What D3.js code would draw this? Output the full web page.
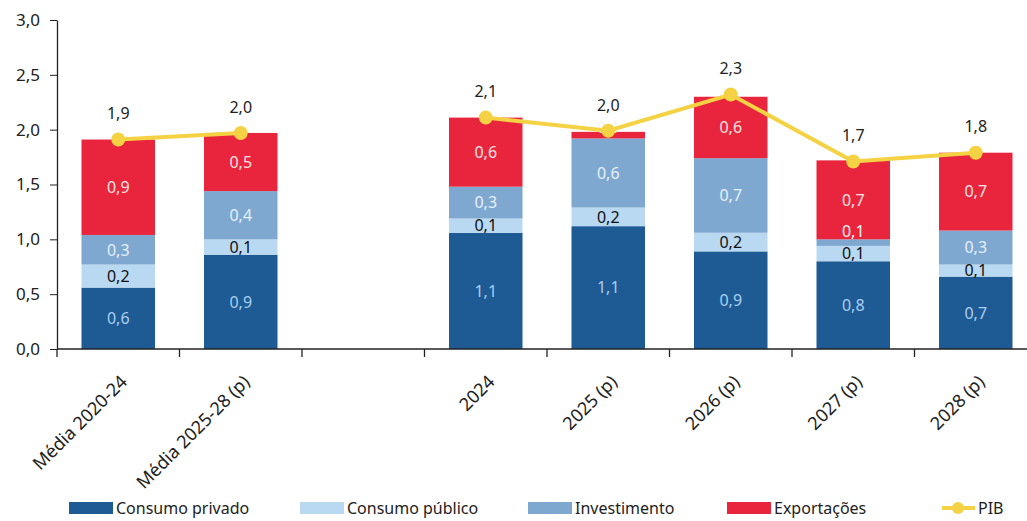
<!DOCTYPE html>
<html>
<head>
<meta charset="utf-8">
<script src="https://cdn.jsdelivr.net/npm/d3@7"></script>
<style>
  body { margin: 0; background: #fff; }
  svg { display: block; }
  .tick-lbl { font-family: "Noto Sans", sans-serif; font-size: 17px; fill: #222; }
  .x-lbl { font-family: "Noto Sans", sans-serif; font-size: 18px; fill: #222; }
  .val { font-family: "Noto Sans", sans-serif; font-size: 16px; }
  .legend text { font-family: "Noto Sans", sans-serif; font-size: 16px; fill: #222; }
</style>
</head>
<body>
<div id="chart"></div>
<script>
// categories (the blank slot is the gap between the averages and the years)
const categories = ['Média 2020-24', 'Média 2025-28 (p)', ' ', '2024', '2025 (p)', '2026 (p)', '2027 (p)', '2028 (p)'];
const barCategories = ['Média 2020-24', 'Média 2025-28 (p)', '2024', '2025 (p)', '2026 (p)', '2027 (p)', '2028 (p)'];

// contributions (p.p.)
const consumoPrivado = [0.56, 0.86, 1.06, 1.12, 0.89, 0.80, 0.66];
const consumoPublico = [0.21, 0.14, 0.13, 0.17, 0.17, 0.14, 0.11];
const investimento   = [0.27, 0.44, 0.29, 0.63, 0.68, 0.06, 0.31];
const exportacoes    = [0.87, 0.53, 0.63, 0.06, 0.56, 0.72, 0.71];
const pib            = [1.91, 1.97, 2.11, 1.99, 2.32, 1.71, 1.79];

const yTicks = [0, 0.5, 1, 1.5, 2, 2.5, 3];

const series = [
  { name: 'Consumo privado', values: consumoPrivado, color: '#1e5a94', text: '#a9cff0' },
  { name: 'Consumo público', values: consumoPublico, color: '#b9d9f2', text: '#111' },
  { name: 'Investimento',   values: investimento,   color: '#7fa8d0', text: '#e4f0fb' },
  { name: 'Exportações',    values: exportacoes,    color: '#e8253d', text: '#fde3e3' }
];
const pibColor = '#f5d244';

const width = 1027, height = 521;
const pt = d3.formatLocale({ decimal: ',', thousands: '.', grouping: [3], currency: ['', ''] });
const fmt = pt.format('.1f');

const svg = d3.select('#chart').append('svg')
  .attr('width', width)
  .attr('height', height);

const x = d3.scaleBand()
  .domain(categories)
  .range([57, 1037])
  .paddingInner(0.4)
  .paddingOuter(0.2);

const y = d3.scaleLinear()
  .domain([0, 3])
  .range([349, 20]);

const cx = c => x(c) + x.bandwidth() / 2;

// stacked bars
const rows = barCategories.map((c, i) => {
  const row = { cat: c };
  series.forEach(s => { row[s.name] = s.values[i]; });
  return row;
});
const stack = d3.stack().keys(series.map(s => s.name))(rows);

const barsG = svg.append('g');
const valsG = svg.append('g');
const sliceH = d => y(d[0]) - y(d[1]);

stack.forEach((layer, li) => {
  const s = series[li];
  barsG.append('g').selectAll('rect')
    .data(layer)
    .enter()
    .append('rect')
    .attr('x', d => x(d.data.cat))
    .attr('width', x.bandwidth())
    .attr('y', d => y(d[1]))
    .attr('height', sliceH)
    .attr('fill', s.color);
  valsG.append('g').selectAll('text')
    .data(layer)
    .enter()
    .append('text')
    .attr('class', 'val')
    .attr('x', d => cx(d.data.cat))
    .attr('y', (d, i) => {
      let shift = 0;
      // thin slices: label drifts up, more so if the slice below is thin too
      if (sliceH(d) < 10) {
        const below = li > 0 ? stack[li - 1][i] : null;
        shift = below && sliceH(below) < 20 ? 11 : 8;
      }
      return y((d[0] + d[1]) / 2) - shift;
    })
    .attr('dy', '0.36em')
    .attr('text-anchor', 'middle')
    .attr('fill', d => (sliceH(d) < 10 ? '#f4f4f4' : s.text))
    .text(d => fmt(d[1] - d[0]));
});

// axes
const yAxis = svg.append('g').attr('transform', 'translate(57,0)')
  .call(d3.axisLeft(y).tickValues(yTicks).tickFormat(fmt).tickSize(7).tickSizeOuter(0));
yAxis.select('.domain').attr('stroke', '#222').attr('stroke-width', 1.3);
yAxis.selectAll('.tick line').attr('stroke', '#222');
yAxis.selectAll('.tick text').attr('class', 'tick-lbl').attr('x', -17);

const step = x.step();
const boundaries = categories.map(c => x(c) - (step - x.bandwidth()) / 2);
const xAxis = svg.append('g');
xAxis.append('line')
  .attr('x1', 57).attr('x2', width)
  .attr('y1', y(0)).attr('y2', y(0))
  .attr('stroke', '#222').attr('stroke-width', 1.3);
xAxis.selectAll('line.tk')
  .data(boundaries)
  .enter()
  .append('line')
  .attr('class', 'tk')
  .attr('x1', d => d).attr('x2', d => d)
  .attr('y1', y(0)).attr('y2', y(0) + 8)
  .attr('stroke', '#222').attr('stroke-width', 1.3);
xAxis.selectAll('text')
  .data(barCategories)
  .enter()
  .append('text')
  .attr('class', 'x-lbl')
  .attr('text-anchor', 'end')
  .attr('transform', d => `translate(${cx(d) + 10},${y(0) + 34}) rotate(-45)`)
  .text(d => d);

// PIB line, broken at the gap slot
const pibByCat = categories.map(c => {
  const i = barCategories.indexOf(c);
  return { cat: c, v: i < 0 ? null : pib[i] };
});
const line = d3.line()
  .defined(d => d.v !== null)
  .x(d => cx(d.cat))
  .y(d => y(d.v));
svg.append('path')
  .datum(pibByCat)
  .attr('d', line)
  .attr('fill', 'none')
  .attr('stroke', pibColor)
  .attr('stroke-width', 4);
svg.append('g').selectAll('circle')
  .data(pib)
  .enter()
  .append('circle')
  .attr('cx', (d, i) => cx(barCategories[i]))
  .attr('cy', d => y(d))
  .attr('r', 7)
  .attr('fill', pibColor);
svg.append('g').selectAll('text')
  .data(pib)
  .enter()
  .append('text')
  .attr('class', 'val')
  .attr('x', (d, i) => cx(barCategories[i]))
  .attr('y', d => y(d) - 26)
  .attr('dy', '0.36em')
  .attr('text-anchor', 'middle')
  .attr('fill', '#222')
  .text(d => fmt(d));

// legend
const legend = svg.append('g').attr('class', 'legend');
const legendX = [69, 300, 528, 727];
series.forEach((s, i) => {
  legend.append('rect')
    .attr('x', legendX[i]).attr('y', 502)
    .attr('width', 44).attr('height', 12)
    .attr('fill', s.color);
  legend.append('text')
    .attr('x', legendX[i] + 47).attr('y', 508)
    .attr('dy', '0.36em')
    .text(s.name);
});
legend.append('line')
  .attr('x1', 942).attr('x2', 975)
  .attr('y1', 508).attr('y2', 508)
  .attr('stroke', pibColor).attr('stroke-width', 4);
legend.append('circle')
  .attr('cx', 958).attr('cy', 508).attr('r', 6)
  .attr('fill', pibColor);
legend.append('text')
  .attr('x', 978).attr('y', 508)
  .attr('dy', '0.36em')
  .text('PIB');
</script>
</body>
</html>
